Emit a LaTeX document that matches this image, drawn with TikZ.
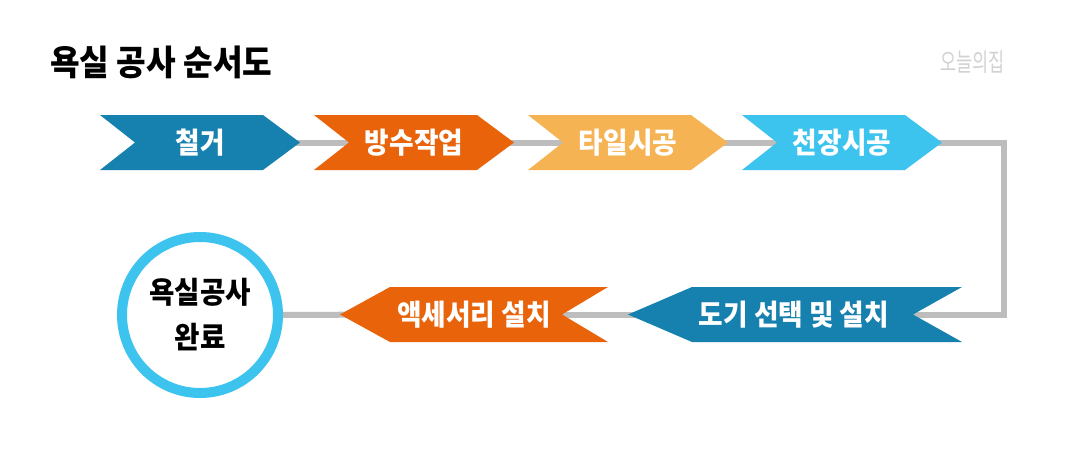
\documentclass[tikz,border=0pt]{standalone}
\usepackage{fontspec}
\usetikzlibrary{backgrounds}
\newfontfamily\kr{Noto Sans CJK KR}
\newfontfamily\krc{Noto Sans CJK KR}[FakeStretch=0.92]
\newfontfamily\krlogo{Noto Sans CJK KR}[FakeStretch=0.7]
\definecolor{cblue}{HTML}{1680AE}
\definecolor{corange}{HTML}{E8630A}
\definecolor{cyellow}{HTML}{F5B353}
\definecolor{csky}{HTML}{3CC4EF}
\definecolor{cline}{HTML}{BDBDBD}
\definecolor{clogo}{HTML}{D2D2D2}
\tikzset{
  steptext/.style={text=white, font=\krc\bfseries\fontsize{29}{32}\selectfont, inner sep=0pt},
  link/.style={draw=cline, line width=6pt},
}
\newcommand\chevright[4]{%
  \fill[#2] (#1,115) -- ++(163,0) -- ++(37,27.5) -- ++(-37,27.5) -- ++(-163,0) -- ++(35,-27.5) -- cycle;
  \node[steptext] (#3) at (#1+100,142.5) {#4};
}
\begin{document}
\begin{tikzpicture}[x=1pt,y=-1pt]
\useasboundingbox (0,0) rectangle (1080,455);
\node[anchor=west, inner sep=0pt, font=\krc\bfseries\fontsize{35}{38}\selectfont] (title) at (50,62) {욕실 공사 순서도};
\node[anchor=east, inner sep=0pt, text=clogo, font=\krlogo\fontsize{25}{28}\selectfont] (logo) at (1005,62) {오늘의집};
\chevright{100}{cblue}{s1}{철거}
\chevright{314}{corange}{s2}{방수작업}
\chevright{528}{cyellow}{s3}{타일시공}
\chevright{742}{csky}{s4}{천장시공}
\fill[cblue] (628,314.5) -- (692,287) -- (962,287) -- (913,314.5) -- (962,342) -- (692,342) -- cycle;
\node[steptext] (s5) at (794,314.5) {도기 선택 및 설치};
\fill[corange] (340,314.5) -- (390,287) -- (608,287) -- (562,314.5) -- (608,342) -- (390,342) -- cycle;
\node[steptext] (s6) at (474,314.5) {액세서리 설치};
\node[circle, draw=csky, line width=10pt, fill=white, minimum size=156pt, inner sep=0pt, align=center,
      font=\krc\bfseries\fontsize{30}{45}\selectfont] (done) at (200,315) {욕실공사\\완료};
\coordinate (turn) at (1004,228);
\begin{scope}[on background layer]
  \fill[white] (0,0) rectangle (1080,455);
  \draw[link] (s1) -- (s2);
  \draw[link] (s2) -- (s3);
  \draw[link] (s3) -- (s4);
  \draw[link] (s4) -| (turn) |- (s5);
  \draw[link] (s5) -- (s6);
  \draw[link] (s6) -- (done);
\end{scope}
\end{tikzpicture}
\end{document}
